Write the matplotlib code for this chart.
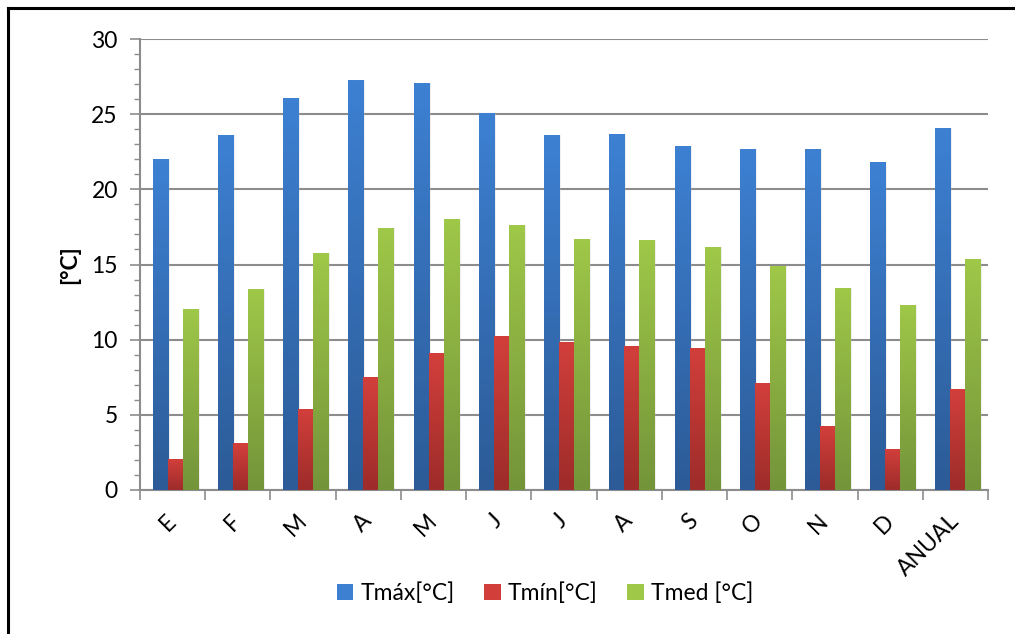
import numpy as np
import matplotlib
matplotlib.use("Agg")
import matplotlib.pyplot as plt
from matplotlib.colors import LinearSegmentedColormap
from matplotlib.patches import Patch
from matplotlib.lines import Line2D

plt.rcParams['font.family'] = ['Lato', 'DejaVu Sans']

# data
months = ['E', 'F', 'M', 'A', 'M', 'J', 'J', 'A', 'S', 'O', 'N', 'D', 'ANUAL']
tmax = [22.0, 23.6, 26.1, 27.3, 27.1, 25.1, 23.6, 23.65, 22.85, 22.7, 22.65, 21.85, 24.05]
tmin = [2.05, 3.1, 5.4, 7.5, 9.1, 10.25, 9.85, 9.6, 9.45, 7.1, 4.25, 2.75, 6.7]
tmed = [12.05, 13.35, 15.75, 17.4, 18.05, 17.65, 16.7, 16.6, 16.15, 14.9, 13.45, 12.3, 15.35]
labels = ['Tmáx[°C]', 'Tmín[°C]', 'Tmed [°C]']

# top colour, bottom colour of each series gradient
grads = [('#3d80d2', '#2c5b97'), ('#d23f3b', '#9d2c2a'), ('#9fc748', '#74943a')]

fig = plt.figure(figsize=(10.15, 6.34), dpi=100)
ax = fig.add_axes([140/1015, 1-490/634, 848/1015, 451/634])

x = np.arange(len(months))
w = 0.23
series = [tmax, tmin, tmed]
for i, (vals, (ctop, cbot)) in enumerate(zip(series, grads)):
    pos = x + (i - 1) * w + 0.04
    # soft shadow on the right
    ax.bar(pos + 0.03, vals, w, color='#c0c0c0', alpha=0.25, zorder=2, linewidth=0)
    bars = ax.bar(pos, vals, w, color=cbot, zorder=3, linewidth=0)
    cmap = LinearSegmentedColormap.from_list('g%d' % i, [cbot, ctop])
    for b in bars:
        x0, h = b.get_x(), b.get_height()
        im = ax.imshow(np.linspace(0, 1, 64).reshape(-1, 1), cmap=cmap, origin='lower',
                       extent=[x0, x0 + w, 0, h], aspect='auto', zorder=4)
        im.set_clip_path(b)

ax.set_xlim(-0.5, len(months) - 0.5)
ax.set_ylim(0, 30)

# grid / ticks
ax.set_yticks(np.arange(0, 31, 5))
ax.set_yticks(np.arange(0, 31, 1), minor=True)
ax.yaxis.grid(True, which='major', color='#8c8c8c', linewidth=1.5, zorder=1)
ax.set_axisbelow(True)
ax.tick_params(axis='y', which='major', length=7, width=1.2, color='#8c8c8c',
               labelsize=16.5, pad=9)
ax.tick_params(axis='y', which='minor', length=4, width=1.0, color='#8c8c8c')

ax.set_xticks(np.arange(-0.5, len(months), 1))
ax.set_xticklabels([])
ax.set_xticks(x, minor=True)
ax.set_xticklabels(months, minor=True, rotation=45, ha='right', va='center',
                   rotation_mode='anchor')
ax.tick_params(axis='x', which='major', length=7, width=1.2, color='#8c8c8c')
ax.tick_params(axis='x', which='minor', length=0, labelsize=16.5, pad=20)

for s in ['top', 'right']:
    ax.spines[s].set_visible(False)
for s in ['left', 'bottom']:
    ax.spines[s].set_color('#8c8c8c')
    ax.spines[s].set_linewidth(1.5)

ax.set_ylabel('[°C]', fontsize=16.5, fontweight='bold', labelpad=8)

handles = [Patch(facecolor=c[0], edgecolor='none') for c in grads]
fig.legend(handles, labels, loc='center', bbox_to_anchor=(545/1015, 1-593/634),
           ncol=3, frameon=False, fontsize=16.5, handlelength=0.72, handleheight=0.72,
           handletextpad=0.3, columnspacing=1.3)

# frame of the original picture (top and left edges)
fig.add_artist(Line2D([7.5/1015, 1], [1-7.5/634, 1-7.5/634], color='black', linewidth=2.2))
fig.add_artist(Line2D([7.5/1015, 7.5/1015], [0, 1-7.5/634], color='black', linewidth=2.2))

fig.savefig('out.png', dpi=100)
